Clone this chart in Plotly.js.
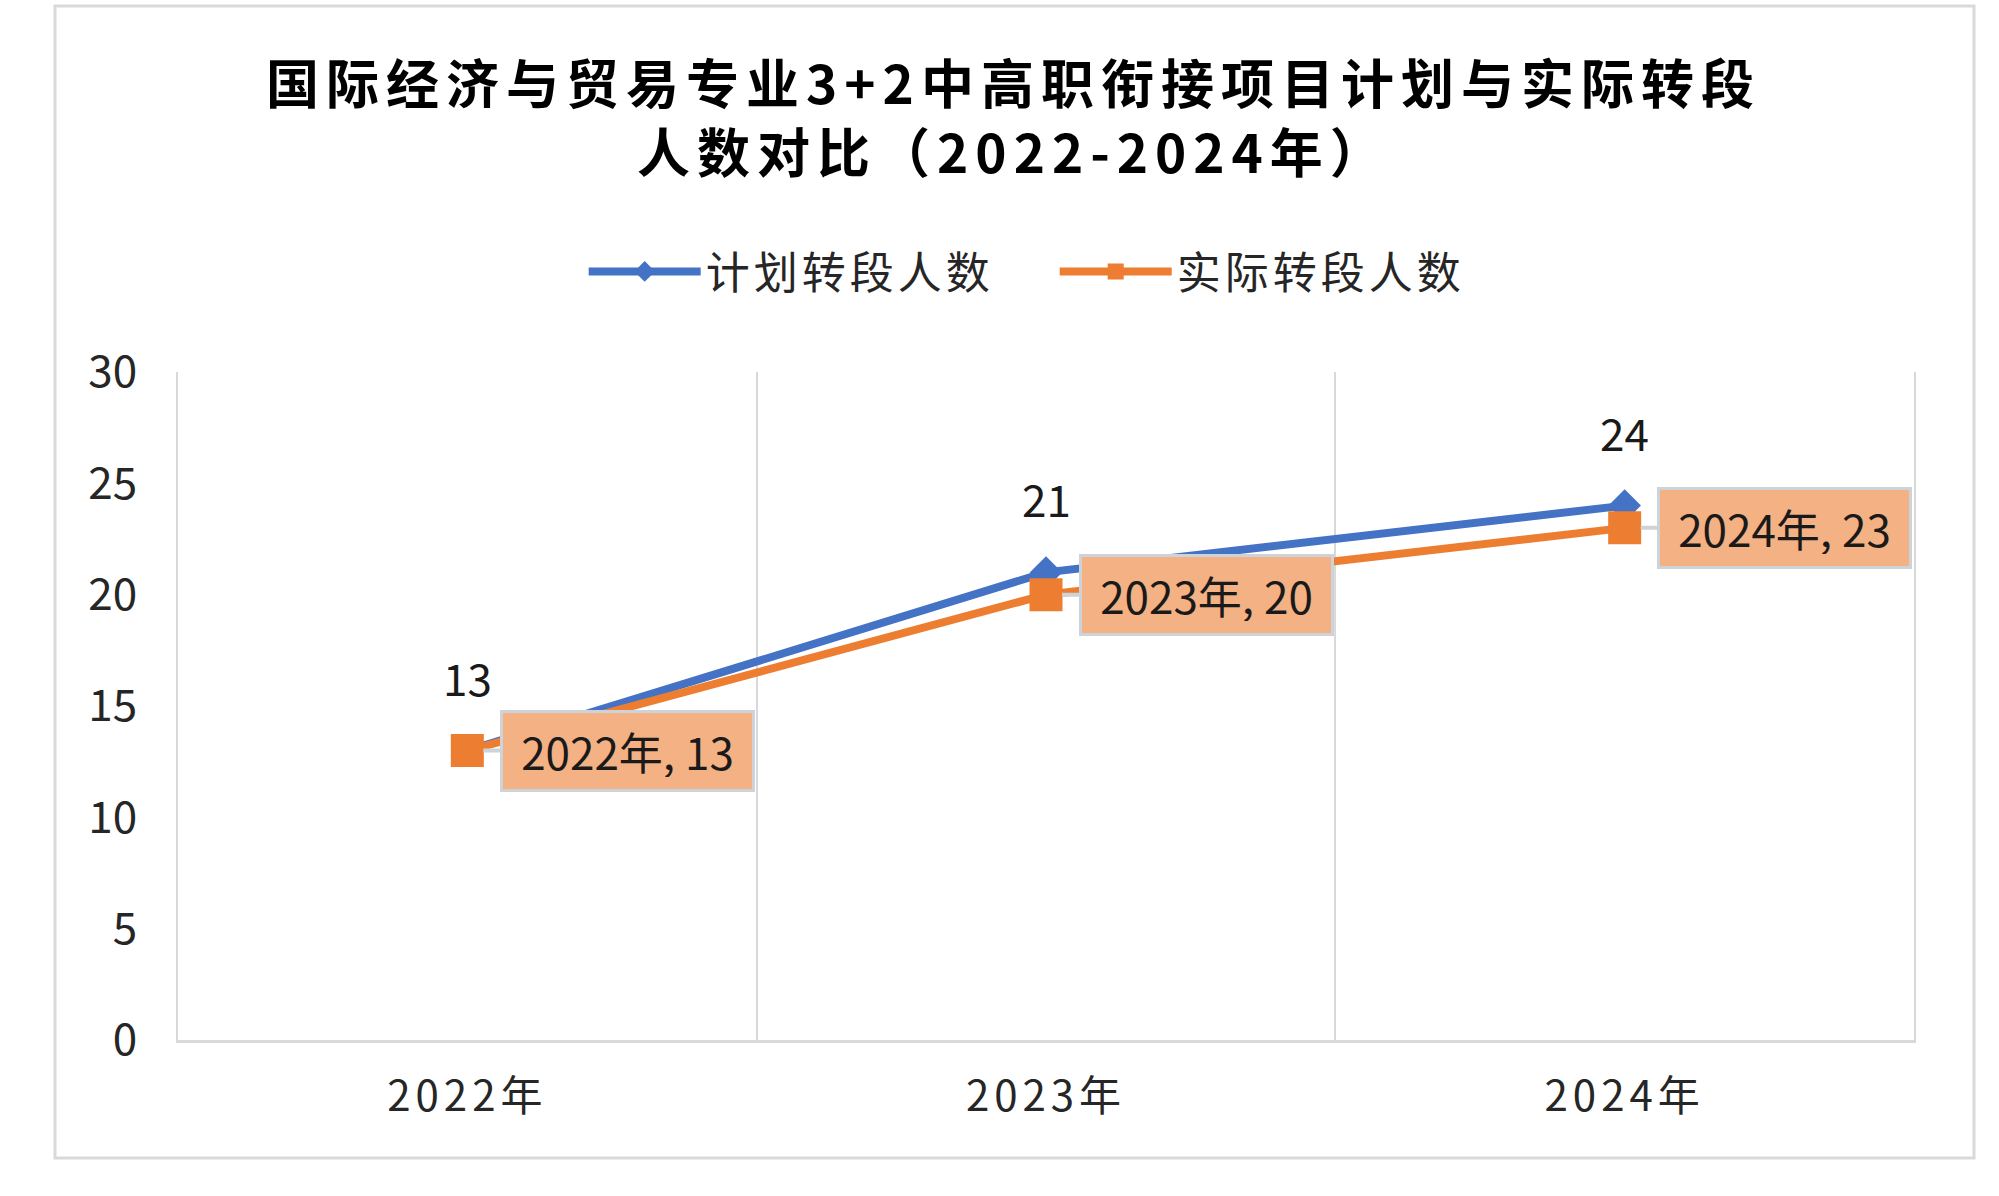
<!DOCTYPE html>
<html>
<head>
<meta charset="utf-8">
<script src="https://cdn.plot.ly/plotly-3.0.1.min.js"></script>
<style>
  html, body { margin: 0; padding: 0; background: #ffffff; }
  #chart { width: 1999px; height: 1196px; }
  .gtitle { letter-spacing: 7px; }
  .xtick text { letter-spacing: 5px; }
  .legendtext { letter-spacing: 4px; }
</style>
</head>
<body>
<div id="chart"></div>
<script>
// ---- data ----
const categories = ['2022年', '2023年', '2024年'];
const plannedCounts = [13, 21, 24];
const actualCounts = [13, 20, 23];
const seriesNames = ['计划转段人数', '实际转段人数'];
const chartTitle = '国际经济与贸易专业3+2中高职衔接项目计划与实际转段<br>人数对比（2022-2024年）';

// ---- styles ----
const FONT = '"Noto Sans CJK SC", "Noto Sans", sans-serif';
const BLUE = '#4472C4';
const ORANGE = '#ED7D31';
const GRID = '#D9D9D9';

const traces = [
  {
    type: 'scatter', mode: 'lines+markers', name: seriesNames[0],
    x: categories, y: plannedCounts,
    line: { color: BLUE, width: 8 },
    marker: { symbol: 'diamond', size: 25, color: BLUE },
    hoverinfo: 'skip'
  },
  {
    type: 'scatter', mode: 'lines+markers', name: seriesNames[1],
    x: categories, y: actualCounts,
    line: { color: ORANGE, width: 8 },
    marker: { symbol: 'square', size: 33, color: ORANGE },
    hoverinfo: 'skip'
  }
];

const annotations = [];
categories.forEach((c, i) => {
  annotations.push({
    x: c, y: plannedCounts[i], xref: 'x', yref: 'y',
    text: String(plannedCounts[i]), showarrow: false,
    yshift: 74, font: { family: FONT, size: 44, color: '#1a1a1a' }
  });
  annotations.push({
    x: c, y: actualCounts[i], xref: 'x', yref: 'y',
    text: c + ', ' + actualCounts[i],
    showarrow: true, arrowhead: 0, arrowwidth: 4, arrowcolor: '#CDD3D8',
    ax: 160, ay: 0, standoff: 16,
    width: 225, height: 52, borderpad: 12, borderwidth: 3,
    bgcolor: '#F4B183', bordercolor: '#CDD3D8',
    font: { family: FONT, size: 44, color: '#1a1a1a' }
  });
});

const layout = {
  width: 1999, height: 1196, autosize: false,
  paper_bgcolor: '#ffffff', plot_bgcolor: '#ffffff',
  margin: { l: 178, r: 85, t: 372, b: 156, autoexpand: false },
  font: { family: FONT, color: '#262626' },
  title: {
    text: chartTitle,
    font: { family: FONT, size: 53, color: '#000000', weight: 'bold' },
    x: 0.507, xref: 'container', xanchor: 'center',
    y: 0.913, yref: 'container', yanchor: 'middle'
  },
  showlegend: true,
  legend: {
    orientation: 'h', x: 0.505, xanchor: 'center',
    y: 1.15, yanchor: 'middle',
    font: { family: FONT, size: 44, color: '#262626' },
    itemwidth: 112,
    entrywidth: 344, entrywidthmode: 'pixels'
  },
  xaxis: {
    type: 'category', range: [-0.5, 2.5],
    tickson: 'boundaries', ticks: '',
    showgrid: true, gridcolor: GRID, gridwidth: 2,
    showline: true, linecolor: GRID, linewidth: 3,
    zeroline: false, fixedrange: true,
    ticklabelstandoff: 18,
    tickfont: { family: FONT, size: 42, color: '#262626' }
  },
  yaxis: {
    range: [0, 30], dtick: 5, tick0: 0,
    showgrid: false, zeroline: false,
    showline: true, mirror: true, linecolor: GRID, linewidth: 2,
    ticks: '', ticklabelstandoff: 30, fixedrange: true,
    tickfont: { family: FONT, size: 44, color: '#262626' }
  },
  annotations: annotations,
  shapes: [{
    type: 'rect', xref: 'paper', yref: 'paper',
    x0: (55 - 178) / 1736, x1: (1974 - 178) / 1736,
    y0: (1040 - 1158) / 668, y1: (1040 - 6) / 668,
    line: { color: GRID, width: 3 }, fillcolor: 'rgba(0,0,0,0)', layer: 'below'
  }]
};

Plotly.newPlot('chart', traces, layout, { displayModeBar: false, staticPlot: true });
</script>
</body>
</html>
